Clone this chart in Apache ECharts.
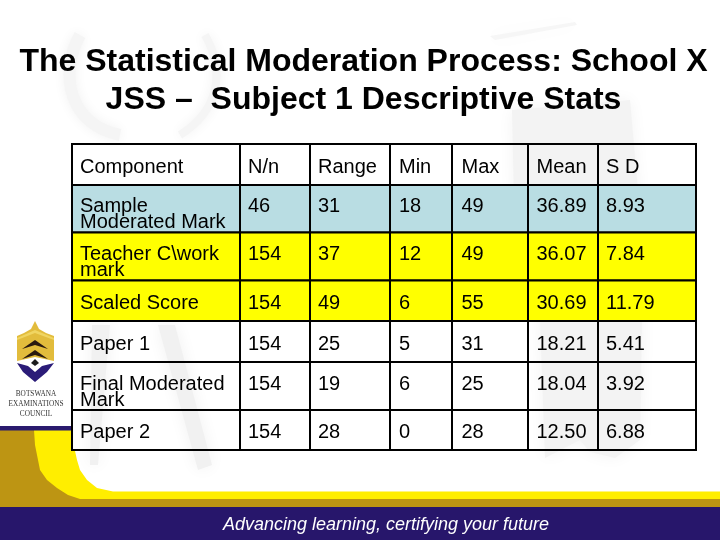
<!DOCTYPE html>
<html>
<head>
<meta charset="utf-8">
<style>
html, body { margin: 0; padding: 0; background: #fff; }
#chart { width: 720px; height: 540px; }
</style>
<script src="https://cdn.jsdelivr.net/npm/echarts@6/dist/echarts.min.js"></script>
</head>
<body>
<div id="chart"></div>
<script>
const columns = ["Component", "N/n", "Range", "Min", "Max", "Mean", "S D"];
const components = ["Sample\nModerated Mark", "Teacher C\\work\nmark", "Scaled Score", "Paper 1", "Final Moderated\nMark", "Paper 2"];
const nValues = [46, 154, 154, 154, 154, 154];
const rangeValues = [31, 37, 49, 25, 19, 28];
const minValues = [18, 12, 6, 5, 6, 0];
const maxValues = [49, 49, 55, 31, 25, 28];
const meanValues = [36.89, 36.07, 30.69, 18.21, 18.04, 12.50];
const sdValues = [8.93, 7.84, 11.79, 5.41, 3.92, 6.88];

const titleText = "The Statistical Moderation Process: School X\nJSS \u2013  Subject 1 Descriptive Stats";
const footerText = "Advancing learning, certifying your future";
const logoLines = ["BOTSWANA", "EXAMINATIONS", "COUNCIL"];

// table layout, in slide pixels measured from the table's top left corner
const colEdges = [0, 168, 238, 318, 380, 456, 526, 624];
const rowEdges = [0, 41, 88.5, 136.5, 177, 218, 266, 306];
const rowFills = ["transparent", "#b9dde3", "#ffff00", "#ffff00", "transparent", "transparent", "transparent"];
const colPadding = [8, 8, 8, 9, 9.5, 8.5, 8];
const rowPadding = [15, 13, 14, 15, 15, 14, 14];

const FONT = '"Liberation Sans", Arial, sans-serif';

const rows = [columns].concat(components.map((name, i) => [
    name,
    String(nValues[i]),
    String(rangeValues[i]),
    String(minValues[i]),
    String(maxValues[i]),
    meanValues[i].toFixed(2),
    sdValues[i].toFixed(2)
]));

const cells = [];
rows.forEach((row, r) => {
    row.forEach((text, c) => {
        cells.push([c, r, text]);
    });
});

function renderCell(params, api) {
    const c = api.value(0);
    const r = api.value(1);
    const topLeft = api.coord([colEdges[c], rowEdges[r]]);
    const bottomRight = api.coord([colEdges[c + 1], rowEdges[r + 1]]);
    return {
        type: "group",
        children: [
            {
                type: "rect",
                shape: {
                    x: topLeft[0],
                    y: topLeft[1],
                    width: bottomRight[0] - topLeft[0],
                    height: bottomRight[1] - topLeft[1]
                },
                style: { fill: rowFills[r], stroke: "#000", lineWidth: 2 }
            },
            {
                type: "text",
                x: topLeft[0] + colPadding[c],
                y: topLeft[1] + rowPadding[r],
                style: {
                    text: rows[r][c],
                    fill: "#000",
                    font: "20px " + FONT,
                    lineHeight: 16,
                    align: "left",
                    verticalAlign: "top"
                }
            }
        ]
    };
}

function shape(points, fill, z) {
    return {
        type: "polygon",
        z: z,
        shape: { points: points },
        style: { fill: fill },
        silent: true
    };
}

function softShape(points, fill) {
    return {
        type: "polygon",
        z: 0,
        shape: { points: points },
        style: { fill: fill, shadowBlur: 16, shadowColor: fill },
        silent: true
    };
}

function softCurve(s, width) {
    return {
        type: "bezierCurve",
        z: 0,
        shape: s,
        style: { fill: "none", stroke: "#f5f5f5", lineWidth: width, shadowBlur: 12, shadowColor: "#f2f2f2" },
        silent: true
    };
}

const watermark = [
    softCurve({ x1: 80, y1: 35, cpx1: 58, cpy1: 75, cpx2: 70, cpy2: 125, x2: 120, y2: 135 }, 12),
    softCurve({ x1: 205, y1: 35, cpx1: 225, cpy1: 70, cpx2: 220, cpy2: 110, x2: 180, y2: 135 }, 8),
    softShape([[490, 36], [575, 22], [577, 25], [495, 40]], "#f6f6f6"),
    softShape([[512, 110], [630, 100], [645, 270], [642, 320], [640, 440], [615, 458], [590, 452], [580, 440], [545, 458], [540, 320], [514, 200]], "#f3f3f3"),
    softShape([[92, 325], [110, 325], [98, 465], [90, 465]], "#f1f1f1"),
    softShape([[158, 325], [175, 325], [212, 465], [198, 470]], "#f1f1f1")
];

const logo = [
    shape([[35, 321], [39, 329], [46, 333], [54, 336], [54, 361], [35, 357], [17, 361], [17, 336], [24, 333], [31, 329]], "#e2bc3c", 1),
    shape([[35, 340], [48, 349], [35, 345], [22, 349]], "#2a1a10", 1),
    shape([[35, 350], [48, 359], [35, 355], [22, 359]], "#2a1a10", 1),
    shape([[17, 338], [35, 330], [54, 338], [54, 340], [35, 333], [17, 340]], "#f0d562", 1),
    shape([[35, 359], [39, 363], [35, 366], [31, 363]], "#1c1c1c", 1),
    shape([[17, 363], [28, 366], [35, 372], [42, 366], [54, 363], [47, 372], [35, 382], [23, 372]], "#2b1c78", 1)
];

const logoText = logoLines.map((line, i) => ({
    type: "text",
    z: 1,
    x: 36,
    y: 394 + i * 9.6,
    scaleX: 0.81,
    style: {
        text: line,
        fill: "#333",
        font: '9px "Liberation Serif", serif',
        align: "center",
        verticalAlign: "middle"
    },
    silent: true
}));

const slideFrame = [
    shape([[0, 430], [40, 430], [60, 470], [90, 499], [720, 499], [720, 507], [0, 507]], "#bd9513", 1),
    shape([[34, 430], [72, 430], [72, 450], [75, 451], [77, 460], [80, 470], [87, 480], [97, 488], [113, 491.5], [720, 491.5], [720, 499], [80, 499], [68, 495], [57, 488], [47, 480], [40, 470], [35, 445]], "#ffee00", 1),
    shape([[0, 426], [72, 426], [72, 430.5], [0, 430.5]], "#2a1a6e", 1),
    shape([[0, 507], [720, 507], [720, 540], [0, 540]], "#27166b", 1)
];

const footer = {
    type: "text",
    z: 3,
    x: 386,
    y: 525,
    style: {
        text: footerText,
        fill: "#fff",
        font: "italic 18px " + FONT,
        align: "center",
        verticalAlign: "middle"
    },
    silent: true
};

const chart = echarts.init(document.getElementById("chart"), null, { renderer: "canvas" });

chart.setOption({
    animation: false,
    backgroundColor: "#fff",
    title: {
        text: titleText,
        left: 358.5,
        top: 38,
        textAlign: "center",
        textStyle: {
            fontFamily: FONT,
            fontSize: 32,
            fontWeight: "bold",
            color: "#000",
            lineHeight: 38
        }
    },
    graphic: { elements: watermark.concat(slideFrame, logo, logoText, [footer]) },
    grid: { left: 72, top: 144, right: 24, bottom: 90 },
    xAxis: { type: "value", min: 0, max: 624, show: false },
    yAxis: { type: "value", min: 0, max: 306, inverse: true, show: false },
    series: [
        {
            type: "custom",
            coordinateSystem: "cartesian2d",
            renderItem: renderCell,
            data: cells,
            clip: false,
            silent: true,
            z: 5
        }
    ]
});

window.addEventListener("resize", () => chart.resize());
</script>
</body>
</html>
